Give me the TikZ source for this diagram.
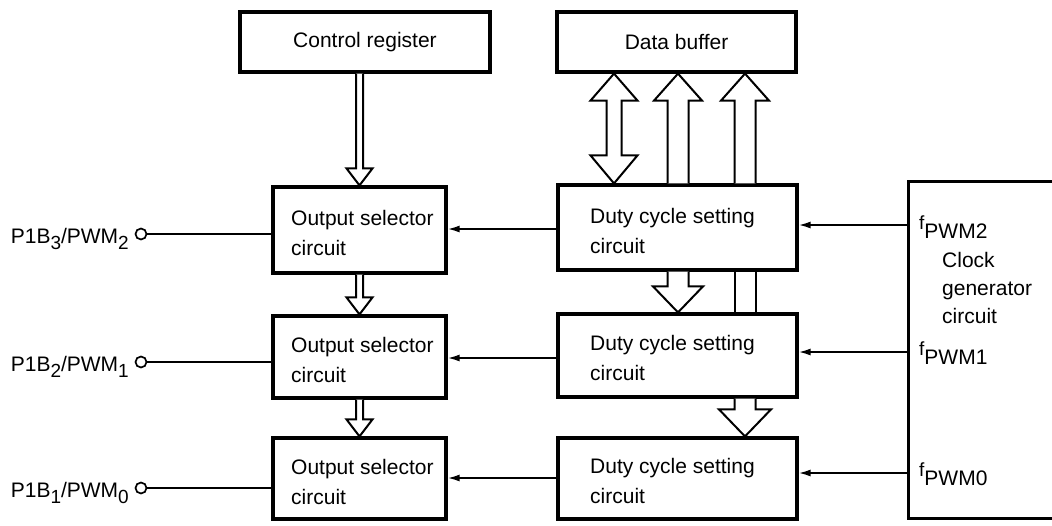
\documentclass[tikz,border=0pt]{standalone}
\usepackage{fontspec}
\setmainfont{Liberation Sans}
\usetikzlibrary{arrows.meta,calc}
\newcommand\lowsub[1]{\raisebox{-0.33em}{\fontsize{19}{20}\selectfont #1}}
\newcommand\fsig[1]{\raisebox{0.42em}{\fontsize{19}{20}\selectfont f}#1}
% hollow single-headed arrow: #1 tail, #2 tip, #3 shaft half, #4 head half, #5 signed head length (canvas)
\newcommand\hollowarrow[5]{%
  \draw[hol] let \p1=#1, \p2=#2 in
    ({\x2-#3pt},\y1) -- ({\x2-#3pt},{\y2+#5pt}) -- ({\x2-#4pt},{\y2+#5pt}) -- (\x2,\y2)
    -- ({\x2+#4pt},{\y2+#5pt}) -- ({\x2+#3pt},{\y2+#5pt}) -- ({\x2+#3pt},\y1);}
\begin{document}
\begin{tikzpicture}[x=1pt,y=-1pt,
  font=\fontsize{21}{30}\selectfont,
  box/.style={draw, line width=3.2pt, inner sep=0pt},
  txt/.style={align=left, inner sep=0pt, anchor=west},
  conn/.style={line width=1.8pt},
  arr/.style={conn, -{Latex[length=12pt,width=7pt]}},
  hol/.style={draw, line width=2pt, fill=white, line join=miter},
  pin/.style={circle, draw, line width=1.7pt, minimum size=11pt, inner sep=0pt}]
\useasboundingbox (0,0) rectangle (1052,525);

% top boxes
\node[box, minimum width=250pt, minimum height=60pt] (cr) at (365,42) {Control register};
\node[box, minimum width=239pt, minimum height=60pt] (db) at (676.5,42) {Data buffer};

% output selector boxes
\node[box, minimum width=173pt, minimum height=86pt] (os1) at (359.5,230) {};
\node[box, minimum width=173pt, minimum height=82pt] (os2) at (359.5,357) {};
\node[box, minimum width=173pt, minimum height=81pt] (os3) at (359.5,478.5) {};
\node[txt] (os1t) at (291,233) {Output selector\\circuit};
\node[txt] (os2t) at (291,360) {Output selector\\circuit};
\node[txt] (os3t) at (291,482) {Output selector\\circuit};

% duty cycle boxes
\node[box, minimum width=239pt, minimum height=85pt] (d1) at (677.5,227.5) {};
\node[box, minimum width=239pt, minimum height=83pt] (d2) at (677.5,355.5) {};
\node[box, minimum width=239pt, minimum height=81pt] (d3) at (677.5,478.5) {};
\node[txt] (d1t) at (590,231) {Duty cycle setting\\circuit};
\node[txt] (d2t) at (590,358) {Duty cycle setting\\circuit};
\node[txt] (d3t) at (590,481) {Duty cycle setting\\circuit};

% clock generator (open on the right)
\coordinate (clk) at (908,181);
\draw[line width=3pt] (1060,181) -- (clk) -- (908,518) -- (1060,518);
\node[anchor=base west, inner sep=0pt] (f2) at (919,238) {\fsig{PWM2}};
\node[anchor=base west, inner sep=0pt] (cl1) at (942,267) {Clock};
\node[anchor=base west, inner sep=0pt] (cl2) at (942,295) {generator};
\node[anchor=base west, inner sep=0pt] (cl3) at (942,323) {circuit};
\node[anchor=base west, inner sep=0pt] (f1) at (919,364) {\fsig{PWM1}};
\node[anchor=base west, inner sep=0pt] (f0) at (919,485) {\fsig{PWM0}};

% clock -> duty arrows
\coordinate (c2) at (908,225);
\coordinate (c1) at (908,352);
\coordinate (c0) at (908,473);
\draw[arr] (c2) -- (c2 -| d1.east);
\draw[arr] (c1) -- (c1 -| d2.east);
\draw[arr] (c0) -- (c0 -| d3.east);

% duty -> output selector arrows
\coordinate (s2) at (558,229);
\coordinate (s1) at (558,358);
\coordinate (s0) at (558,478);
\draw[arr] (s2) -- (s2 -| os1.east);
\draw[arr] (s1) -- (s1 -| os2.east);
\draw[arr] (s0) -- (s0 -| os3.east);

% pins
\node[pin] (p1) at (141,234) {};
\node[pin] (p2) at (141,362) {};
\node[pin] (p3) at (141,488) {};
\draw[conn] (p1) -- (p1 -| os1.west);
\draw[conn] (p2) -- (p2 -| os2.west);
\draw[conn] (p3) -- (p3 -| os3.west);
\node[anchor=base east, inner sep=0pt] (p1l) at (129,243) {P1B\lowsub{3}/PWM\lowsub{2}};
\node[anchor=base east, inner sep=0pt] (p2l) at (129,371) {P1B\lowsub{2}/PWM\lowsub{1}};
\node[anchor=base east, inner sep=0pt] (p3l) at (129,497) {P1B\lowsub{1}/PWM\lowsub{0}};

% hollow arrows on the left column
\hollowarrow{(cr.south)}{(os1.north)}{3.5}{13}{17}
\hollowarrow{(os1.south)}{(os2.north)}{3.5}{13}{17}
\hollowarrow{(os2.south)}{(os3.north)}{3.5}{13}{17}

% data buffer arrows
\coordinate (a1) at (614,0);
\coordinate (a2) at (678,0);
\coordinate (a3) at (745,0);
% double-headed
\draw[hol] let \p1=(a1 |- db.south), \p2=(a1 |- d1.north) in
  ({\x1-23.5pt},{\y1-27pt}) -- (\x1,\y1) -- ({\x1+23.5pt},{\y1-27pt}) -- ({\x1+7.5pt},{\y1-27pt})
  -- ({\x1+7.5pt},{\y2+28pt}) -- ({\x1+23.5pt},{\y2+28pt}) -- (\x2,\y2) -- ({\x1-23.5pt},{\y2+28pt})
  -- ({\x1-7.5pt},{\y2+28pt}) -- ({\x1-7.5pt},{\y1-27pt}) -- cycle;
% upward arrows into data buffer
\hollowarrow{(a2 |- d1.north)}{(a2 |- db.south)}{10.5}{24}{-27}
\hollowarrow{(a3 |- d1.north)}{(a3 |- db.south)}{10.5}{24}{-27}
% downward arrows between duty circuits
\hollowarrow{(a2 |- d1.south)}{(a2 |- d2.north)}{10.5}{25}{26}
\draw[line width=2pt] ([xshift=-10.5pt]a3 |- d1.south) -- ([xshift=-10.5pt]a3 |- d2.north)
  ([xshift=10.5pt]a3 |- d1.south) -- ([xshift=10.5pt]a3 |- d2.north);
\hollowarrow{(a3 |- d2.south)}{(a3 |- d3.north)}{10.5}{26}{27}
\end{tikzpicture}
\end{document}
